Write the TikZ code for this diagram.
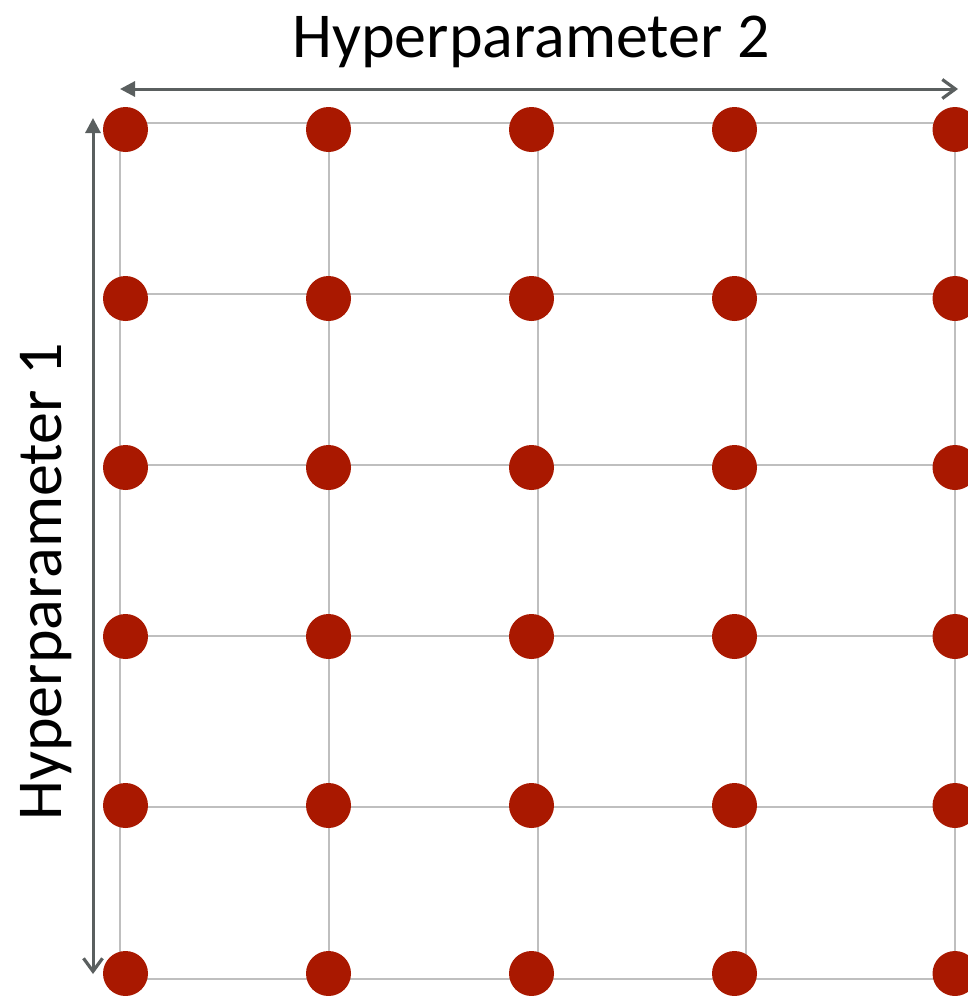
\documentclass[tikz,border=0pt]{standalone}
\usepackage{fontspec}
\setmainfont{Carlito}
\usetikzlibrary{arrows.meta}
\definecolor{dotred}{HTML}{A91800}
\definecolor{gridgray}{HTML}{BFBFBF}
\definecolor{axisgray}{HTML}{5A5F5F}
\tikzset{
  gridline/.style={draw=gridgray, line width=1.6pt},
  dot/.style={circle, fill=dotred, inner sep=0pt, minimum size=45pt},
  axisline/.style={draw=axisgray, line width=3pt,
    {Triangle[length=15pt,width=15pt]}-{Straight Barb[length=13pt,width=19pt,line width=3.2pt]}},
  axislabel/.style={font=\fontsize{64}{70}\selectfont, text=black, inner sep=0pt}
}
\begin{document}
\begin{tikzpicture}[x=1pt, y=-1pt]
  \useasboundingbox (0,0) rectangle (968,996);
  % grid lines
  \foreach \gx in {120,329,538,746,955}
    \draw[gridline] (\gx,123) -- (\gx,979);
  \foreach \gy in {123,294,465,636,807,979}
    \draw[gridline] (120,\gy) -- (955,\gy);
  % grid points
  \foreach \px [count=\i] in {125.5,328.5,531.5,734.5,955}
    \foreach \py [count=\j] in {129.5,298.5,467.5,636.5,805.5,973.5}
      \node[dot] (p\i-\j) at (\px,\py) {};
  % axes
  \coordinate (h2a) at (120,89);
  \coordinate (h2b) at (958,89);
  \coordinate (h1a) at (93,118);
  \coordinate (h1b) at (93,974);
  \draw[axisline] (h2a) -- (h2b);
  \draw[axisline] (h1a) -- (h1b);
  \node[axislabel] (lab2) at (531,42) {Hyperparameter 2};
  \node[axislabel, rotate=90] (lab1) at (46,582) {Hyperparameter 1};
\end{tikzpicture}
\end{document}
